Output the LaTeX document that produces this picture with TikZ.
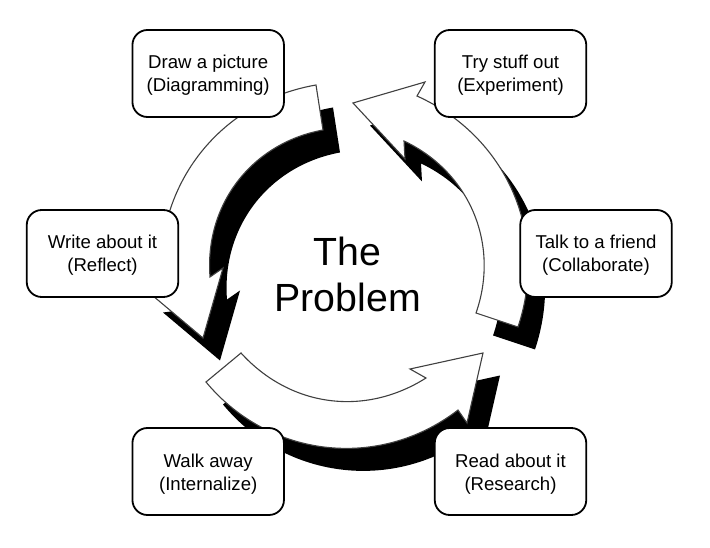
\documentclass[tikz,border=0pt]{standalone}
\usepackage{fontspec}
\setmainfont{Liberation Sans}
\tikzset{
  stagebox/.style={draw=black,fill=white,line width=1.8pt,rounded corners=15pt,minimum width=151.5pt,minimum height=87pt,inner sep=0pt,align=center,font=\fontsize{18.6}{23}\selectfont},
  arrowface/.style={fill=white,draw=black!75,line width=1.1pt,line join=miter},
  arrowshadow/.style={fill=black,draw=none,shift={(17pt,-22.5pt)}}
}
\newcommand{\stagetext}[2]{\rule{0pt}{24pt}#1\\#2\rule[-10pt]{0pt}{10pt}}
\newcommand{\arrowA}{(316,462) to[bend right=43] (162,259) -- (146,257) -- (203,209) -- (223,279) -- (210,270) to[bend left=42] (323,417) -- cycle}
\newcommand{\arrowB}{(476,234) to[bend right=42] (404,406) -- (405,388) -- (353,444) -- (425,465) -- (417,451) to[bend left=42] (518,220) -- cycle}
\newcommand{\arrowC}{(206,165) to[bend right=44] (458,137) -- (467,124) -- (483,194) -- (410,178) -- (426,169) to[bend left=40] (241,194) -- cycle}
\begin{document}
\begin{tikzpicture}[x=1pt,y=1pt]
\useasboundingbox (0,0) rectangle (710,547);
\fill[white] (0,0) rectangle (710,547);
% shadows and faces of the three block arrows
\path[arrowshadow] \arrowA;
\path[arrowface] \arrowA;
\path[arrowshadow] \arrowB;
\path[arrowface] \arrowB;
\path[arrowshadow] \arrowC;
\path[arrowface] \arrowC;
% centre
\node[align=center,inner sep=0pt,font=\fontsize{39.3}{46}\selectfont] (problem) at (347.7,258.3) {\rule{0pt}{32pt}The\\Problem\rule[-32pt]{0pt}{32pt}};
% stages
\node[stagebox] (draw) at (208.2,473.5) {\stagetext{Draw a picture}{(Diagramming)}};
\node[stagebox] (try) at (510.5,473.5) {\stagetext{Try stuff out}{(Experiment)}};
\node[stagebox] (talk) at (596,293.5) {\stagetext{Talk to a friend}{(Collaborate)}};
\node[stagebox] (read) at (510.5,75.5) {\stagetext{Read about it}{(Research)}};
\node[stagebox] (walk) at (208.2,75.5) {\stagetext{Walk away}{(Internalize)}};
\node[stagebox] (write) at (102.5,293.5) {\stagetext{Write about it}{(Reflect)}};
\end{tikzpicture}
\end{document}
